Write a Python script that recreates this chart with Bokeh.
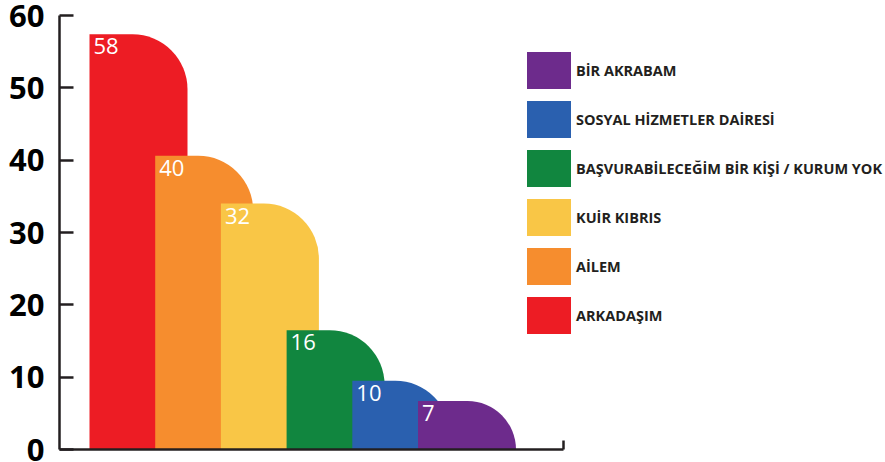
from bokeh.plotting import figure
from bokeh.models import ColumnDataSource, FixedTicker, Legend, LegendItem, Range1d
from bokeh.core.properties import value
from bokeh.embed import file_html
from bokeh.resources import INLINE

# ---- data ----
categories = ["ARKADAŞIM", "AİLEM", "KUİR KIBRIS",
              "BAŞVURABİLECEĞİM BİR KİŞİ / KURUM YOK",
              "SOSYAL HİZMETLER DAİRESİ", "BİR AKRABAM"]
bar_heights = [57.4, 40.6, 34.0, 16.5, 9.5, 6.7]
value_labels = ["58", "40", "32", "16", "10", "7"]
colors = ["#ED1C24", "#F68D2E", "#F9C646", "#11863F", "#2A60AF", "#6D2B8C"]
y_ticks = [0, 10, 20, 30, 40, 50, 60]

# ---- layout (pixels) ----
W, H = 885, 462
BL, BR, BT, BB = 59, 0, 15, 13
frame_w = W - BL - BR
STEP_PX = 65.7
BAR_W_PX = 98
FIRST_LEFT_PX = 30.0
AXIS_END_PX = 504

unit = 1.0 / STEP_PX
x_start = -(FIRST_LEFT_PX + BAR_W_PX / 2) * unit
x_end = x_start + frame_w * unit
bar_w = BAR_W_PX * unit

idx = list(range(len(categories)))
lefts = [i - bar_w / 2 for i in idx]

src = ColumnDataSource(dict(x=idx, top=bar_heights, color=colors,
                            cat=categories, lab=value_labels, left=lefts))

p = figure(width=W, height=H, output_backend="svg", toolbar_location=None,
           x_range=Range1d(x_start, x_end), y_range=Range1d(0, 60),
           min_border_left=BL, min_border_right=BR,
           min_border_top=BT, min_border_bottom=BB)
p.outline_line_color = None
p.xgrid.visible = False
p.ygrid.visible = False
p.background_fill_color = "white"

bars = p.vbar(x="x", width=bar_w, top="top", bottom=0, source=src,
              fill_color="color", line_color=None,
              border_radius=(0, 55, 0, 0))

p.text(x="left", y="top", text="lab", source=src, x_offset=4, y_offset=4,
       text_baseline="top", text_align="left", text_color="white",
       text_font=value("Open Sans"), text_font_size="22px")

# y axis
ya = p.yaxis[0]
ya.ticker = FixedTicker(ticks=y_ticks)
ya.bounds = (0, 60)
ya.axis_line_color = "#231f20"
ya.axis_line_width = 2.5
ya.major_tick_line_color = "#231f20"
ya.major_tick_line_width = 2.5
ya.major_tick_in = 14
ya.major_tick_out = 0
ya.minor_tick_line_color = None
ya.major_label_standoff = 15
ya.major_label_text_font = "Open Sans"
ya.major_label_text_font_size = "31px"
ya.major_label_text_font_style = "bold"
ya.major_label_text_color = "#000000"

# x axis (baseline)
x_axis_end = x_start + AXIS_END_PX * unit
xa = p.xaxis[0]
xa.ticker = FixedTicker(ticks=[x_axis_end])
xa.bounds = (x_start, x_axis_end)
xa.axis_line_color = "#231f20"
xa.axis_line_width = 2.5
xa.major_tick_line_color = "#231f20"
xa.major_tick_line_width = 2.5
xa.major_tick_in = 9
xa.major_tick_out = 0
xa.minor_tick_line_color = None
xa.major_label_text_font_size = "1px"
xa.major_label_text_alpha = 0
xa.major_label_standoff = 0

# legend
items = [LegendItem(label=categories[i], renderers=[bars], index=i)
         for i in reversed(idx)]
legend = Legend(items=items, location=(462, 111), orientation="vertical",
                glyph_width=55, glyph_height=46, spacing=3, padding=0,
                margin=0, label_standoff=0, border_line_color=None,
                background_fill_alpha=0,
                label_text_font="Open Sans", label_text_font_size="14.5px",
                label_text_font_style="bold", label_text_color="#231f20")
p.add_layout(legend)

open("out.html", "w").write(file_html(p, INLINE))
